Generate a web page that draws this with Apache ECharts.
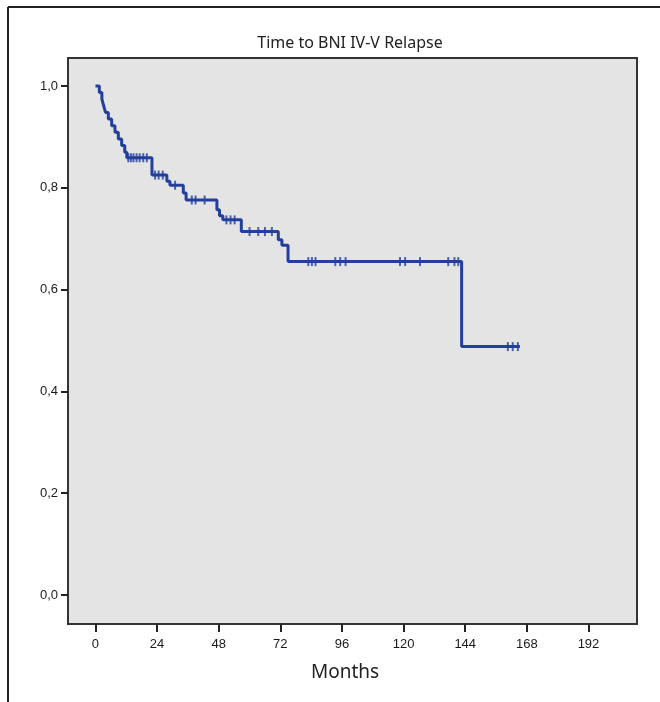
<!DOCTYPE html>
<html>
<head>
<meta charset="utf-8">
<title>Time to BNI IV-V Relapse</title>
<script src="https://cdn.jsdelivr.net/npm/echarts@6/dist/echarts.min.js"></script>
<style>
  html, body { margin: 0; padding: 0; background: #fff; }
  #chart { width: 660px; height: 702px; }
</style>
</head>
<body>
<div id="chart"></div>
<script>
// Kaplan-Meier steps: time (months) and survival after each event
var kmTime = [0, 1.5, 2.5, 3.2, 3.9, 5.0, 6.3, 7.6, 8.9, 10.2, 11.4, 12.2, 22.0, 27.8, 29.0, 34.2, 35.3, 47.3, 48.3, 49.6, 56.8, 71.2, 72.6, 75.0, 142.6, 165.3];
var kmSurv = [1.0, 0.987, 0.974, 0.961, 0.948, 0.935, 0.922, 0.909, 0.896, 0.883, 0.870, 0.859, 0.825, 0.813, 0.805, 0.790, 0.776, 0.757, 0.745, 0.737, 0.714, 0.698, 0.687, 0.655, 0.488, 0.488];
// censored observations (months)
var censorTimes = [12.8, 13.8, 14.8, 16.0, 17.2, 18.6, 20.0, 23.2, 24.6, 26.2, 31.0, 37.5, 39.0, 42.5, 51.0, 52.6, 54.2, 60.0, 63.4, 66.0, 68.7, 82.9, 84.3, 85.7, 93.4, 95.3, 97.4, 118.6, 120.6, 126.4, 137.4, 139.8, 141.3, 160.6, 162.5, 164.5];
var xTicks = [0, 24, 48, 72, 96, 120, 144, 168, 192];
var yTicks = [0, 0.2, 0.4, 0.6, 0.8, 1.0];

var lineColor = '#233f9d';

// survival level at time t (step function)
function survAt(t) {
    var s = kmSurv[0];
    for (var i = 0; i < kmTime.length; i++) {
        if (kmTime[i] <= t) s = kmSurv[i];
    }
    return s;
}

var chart = echarts.init(document.getElementById('chart'));

var option = {
    animation: false,
    backgroundColor: '#fff',
    title: {
        text: 'Time to BNI IV-V Relapse',
        left: 345,
        top: 30,
        textAlign: 'center',
        textStyle: {
            fontFamily: 'Noto Sans',
            fontSize: 16,
            fontWeight: 'normal',
            color: '#222'
        }
    },
    graphic: [
        // outer frame (left and top edges)
        { type: 'line', shape: { x1: 8, y1: 7, x2: 8, y2: 702 }, style: { stroke: '#222', lineWidth: 2 } },
        { type: 'line', shape: { x1: 8, y1: 7, x2: 660, y2: 7 }, style: { stroke: '#222', lineWidth: 2 } },
        // x axis title
        {
            type: 'text', left: 311, top: 663,
            style: { text: 'Months', font: '19px "Noto Sans"', fill: '#222' }
        }
    ],
    grid: {
        left: 68,
        top: 58,
        right: 23,
        bottom: 78,
        show: true,
        backgroundColor: '#e4e4e4',
        borderColor: '#333',
        borderWidth: 2
    },
    xAxis: {
        type: 'value',
        min: -10.7,
        max: 210.9,
        axisLine: { show: false, onZero: false },
        splitLine: { show: false },
        axisTick: {
            show: true,
            customValues: xTicks,
            length: 8,
            lineStyle: { color: '#222', width: 2 }
        },
        axisLabel: {
            customValues: xTicks,
            margin: 14,
            fontFamily: 'Liberation Sans',
            fontSize: 13,
            color: '#1a1a1a'
        }
    },
    yAxis: {
        type: 'value',
        min: -0.057,
        max: 1.055,
        axisLine: { show: false, onZero: false },
        splitLine: { show: false },
        axisTick: {
            show: true,
            customValues: yTicks,
            length: 7,
            lineStyle: { color: '#222', width: 2 }
        },
        axisLabel: {
            customValues: yTicks,
            margin: 10,
            fontFamily: 'Liberation Sans',
            fontSize: 13,
            color: '#1a1a1a',
            formatter: function (v) { return v.toFixed(1).replace('.', ','); }
        }
    },
    series: [
        {
            name: 'Survival',
            type: 'line',
            step: 'end',
            symbol: 'none',
            lineStyle: { color: lineColor, width: 3 },
            data: kmTime.map(function (t, i) { return [t, kmSurv[i]]; })
        },
        {
            name: 'Censored',
            type: 'scatter',
            symbol: 'rect',
            symbolSize: [2, 9],
            itemStyle: { color: lineColor },
            data: censorTimes.map(function (t) { return [t, survAt(t)]; })
        }
    ]
};

chart.setOption(option);
</script>
</body>
</html>
